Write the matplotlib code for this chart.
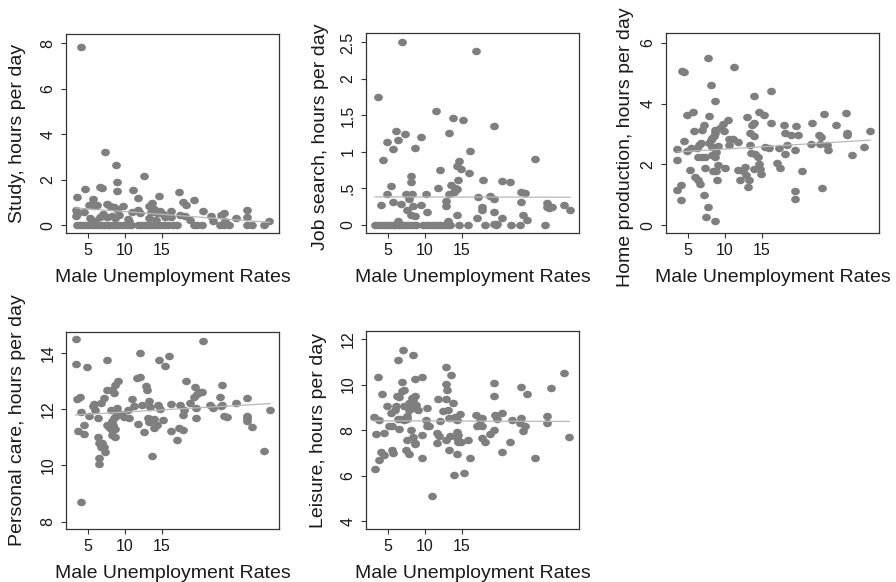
import numpy as np
import matplotlib
matplotlib.use("Agg")
import matplotlib.pyplot as plt
from matplotlib.path import Path

plt.rcParams['font.family'] = ['Liberation Sans', 'DejaVu Sans']

# ---------------- data ----------------
# Study
study_x = [4.0, 3.5, 3.4, 3.3, 3.5, 4.4, 4.6, 5.1, 5.2, 5.7, 5.8, 6.2, 6.0, 6.6, 6.6, 6.9, 7.3, 7.5,
           8.0, 8.5, 8.9, 7.0, 7.6, 8.2, 8.6, 9.2, 8.8, 8.9, 8.9, 9.8, 10.4, 10.6, 11.1, 11.8, 11.8,
           10.9, 12.0, 12.6, 13.3, 13.7, 14.6, 13.5, 14.0, 14.3, 14.8, 15.1, 13.2, 14.2, 15.5, 16.2,
           16.3, 17.3, 17.9, 18.3, 19.4, 17.5, 18.1, 18.8, 20.6, 21.7, 21.9, 23.0, 23.4, 23.6, 25.0,
           26.6, 26.6, 29.6, 28.9,
           3.5, 3.9, 4.2, 4.6, 5.0, 5.5, 6.0, 6.5, 6.9, 7.3, 7.7, 8.0, 8.4, 8.8, 9.2, 9.8, 10.3,
           10.8, 11.8, 12.2, 12.6, 13.0, 13.4, 13.8, 14.3, 14.8, 15.3, 15.8, 16.5, 17.1, 19.3, 19.8,
           20.4, 22.9, 23.4, 24.1, 26.5, 27.3]
study_y = [7.83, 1.24, 0.66, 0.42, 0.51, 0.59, 1.60, 0.90, 0.32, 1.16, 0.83, 0.90, 0.20, 0.35, 1.67,
           1.65, 3.23, 0.95, 0.85, 0.78, 0.70, 0.50, 0.35, 0.42, 0.30, 0.45, 2.66, 1.90, 1.49, 0.86,
           0.28, 0.20, 1.56, 1.20, 0.69, 0.58, 0.55, 2.15, 0.83, 0.98, 1.30, 0.60, 0.70, 0.55, 0.62,
           0.50, 0.30, 0.25, 0.35, 0.61, 0.37, 1.48, 1.00, 0.88, 1.10, 0.47, 0.40, 0.25, 0.61, 0.42,
           0.18, 0.47, 0.53, 0.20, 0.32, 0.69, 0.35, 0.18, 0.03,
           0, 0, 0, 0, 0, 0, 0, 0, 0, 0, 0, 0, 0, 0, 0, 0, 0, 0, 0, 0, 0, 0, 0, 0, 0, 0, 0, 0, 0, 0,
           0, 0, 0, 0, 0, 0, 0, 0]

# Job search
job_x = [3.6, 6.9, 16.9, 4.3, 4.9, 5.6, 6.1, 6.4, 7.3, 8.6, 9.4, 11.5, 13.2, 13.8, 15.2, 19.3, 16.1,
         24.9, 5.4, 4.8, 4.0, 5.7, 6.7, 6.3, 7.4, 8.1, 8.1, 8.3, 7.8, 7.6, 8.1, 8.4, 8.7, 10.2, 9.5,
         10.3, 12.1, 11.8, 12.8, 12.9, 13.2, 13.5, 13.9, 14.1, 14.4, 14.5, 14.3, 14.6, 14.9, 16.0,
         14.3, 13.1, 17.2, 17.1, 17.9, 17.8, 17.8, 18.8, 19.4, 19.4, 19.3, 19.8, 20.4, 20.5, 21.6,
         23.0, 23.6, 23.0, 23.3, 23.9, 26.6, 26.6, 26.8, 27.2, 28.9, 29.7,
         3.2, 3.6, 4.0, 4.4, 4.8, 5.2, 5.6, 6.0, 6.4, 6.8, 7.2, 7.6, 8.0, 8.4, 8.8, 9.8, 10.2, 10.6,
         11.0, 11.4, 11.8, 12.2, 12.6, 13.0, 13.4, 14.6, 15.8, 18.2, 19.6, 21.7, 22.9, 26.3]
job_y = [1.75, 2.51, 2.38, 0.89, 1.14, 1.04, 1.29, 1.16, 1.24, 1.06, 1.21, 1.56, 1.26, 1.46, 1.44,
         1.36, 1.01, 0.91, 0.53, 0.43, 0.27, 0.32, 0.29, 0.06, 0.43, 0.67, 0.59, 0.43, 0.35, 0.20,
         0.14, 0.26, 0.12, 0.43, 0.28, 0.18, 0.75, 0.50, 0.33, 0.26, 0.43, 0.55, 0.45, 0.50, 0.49,
         0.62, 0.81, 0.87, 0.76, 0.71, 0.13, 0.05, 0.38, 0.10, 0.62, 0.24, 0.21, 0.40, 0.36, 0.18,
         0.01, 0.01, 0.60, 0.10, 0.59, 0.45, 0.44, 0.32, 0.14, 0.07, 0.30, 0.25, 0.23, 0.25, 0.28,
         0.20,
         0, 0, 0, 0, 0, 0, 0, 0, 0, 0, 0, 0, 0, 0, 0, 0, 0, 0, 0, 0, 0, 0, 0, 0, 0, 0, 0, 0, 0, 0,
         0, 0]

# Home production
home_x = [3.5, 3.5, 3.5, 4.0, 4.1, 4.2, 4.5, 4.5, 4.9, 5.2, 4.9, 5.45, 5.7, 5.8, 6.0, 6.3, 6.6, 6.2,
          6.5, 6.8, 6.4, 6.9, 7.3, 6.9, 7.2, 7.3, 7.2, 7.4, 7.7, 7.7, 7.9, 8.1, 8.7, 8.7, 8.9, 8.4,
          8.8, 9.1, 7.9, 8.1, 8.3, 8.5, 8.6, 8.7, 8.3, 8.8, 8.2, 8.6, 9.1, 9.3, 9.7, 9.9, 10.0, 10.4,
          10.5, 10.6, 11.1, 11.2, 11.8, 11.8, 12.1, 12.4, 12.7, 12.9, 13.0, 13.1, 13.2, 13.4, 13.4,
          13.5, 13.7, 13.9, 13.9, 14.0, 13.9, 14.1, 14.5, 14.6, 14.6, 14.7, 14.9, 15.3, 15.5, 16.0,
          16.3, 16.3, 17.1, 17.4, 17.3, 18.0, 18.1, 18.1, 18.4, 18.9, 19.6, 19.5, 19.5, 19.5, 19.9,
          20.5, 21.8, 21.7, 22.8, 23.0, 22.9, 23.4, 23.2, 24.0, 23.8, 25.0, 26.4, 26.5, 26.6, 27.2,
          28.9, 29.7]
home_y = [2.52, 2.13, 1.16, 1.33, 0.84, 5.08, 5.05, 2.77, 3.63, 1.82, 2.43, 2.54, 3.74, 3.10, 1.60,
          1.49, 1.36, 2.55, 2.65, 2.70, 2.24, 2.24, 2.24, 3.14, 3.30, 1.88, 0.98, 0.26, 5.52, 0.59,
          3.58, 4.62, 0.14, 4.09, 1.49, 1.78, 1.78, 1.99, 2.70, 2.80, 2.86, 2.92, 3.02, 3.14, 2.58,
          2.42, 2.30, 2.24, 2.62, 3.20, 3.34, 3.09, 1.88, 3.47, 2.63, 2.83, 2.83, 5.21, 2.73, 1.82,
          1.49, 1.77, 1.93, 1.66, 3.56, 1.27, 1.49, 3.03, 2.65, 2.37, 3.30, 3.38, 2.92, 4.26, 1.86,
          2.35, 2.26, 3.72, 2.00, 1.86, 1.69, 3.63, 2.59, 2.54, 4.41, 3.36, 2.04, 1.88, 2.54, 3.29,
          3.05, 2.35, 2.63, 2.98, 3.25, 2.48, 1.12, 0.86, 2.98, 1.79, 3.36, 2.68, 2.98, 2.91, 2.68,
          3.65, 1.22, 2.48, 2.65, 3.29, 3.71, 3.05, 2.98, 2.32, 2.56, 3.11]

# Personal care
care_x = [3.4, 3.3, 3.5, 3.9, 3.6, 4.0, 4.1, 4.8, 4.4, 4.5, 5.1, 5.6, 5.8, 6.0, 6.3, 6.3, 6.5, 6.5,
          6.5, 6.7, 6.9, 7.2, 7.3, 6.7, 7.2, 7.5, 7.6, 7.5, 7.8, 8.1, 8.3, 8.5, 8.8, 8.1, 8.3, 8.6,
          8.5, 9.0, 8.9, 8.4, 8.7, 8.2, 8.6, 9.4, 9.9, 10.4, 10.6, 10.9, 11.2, 11.7, 12.1, 12.1,
          11.8, 12.3, 12.6, 12.9, 13.0, 13.3, 13.1, 13.4, 13.2, 13.6, 14.0, 13.7, 14.0, 14.3, 14.5,
          14.7, 14.6, 15.1, 15.5, 16.0, 16.3, 16.2, 17.0, 17.3, 17.4, 17.9, 17.9, 18.0, 18.3, 18.8,
          19.3, 19.5, 19.6, 19.6, 19.8, 20.2, 20.6, 20.5, 21.6, 21.9, 22.9, 23.1, 23.0, 23.2, 23.4,
          23.9, 25.0, 26.5, 26.6, 26.6, 26.5, 27.2, 28.9, 29.7]
care_y = [14.51, 13.62, 12.36, 12.42, 11.24, 8.69, 11.92, 13.50, 11.44, 11.12, 11.76, 12.10, 12.20,
          11.98, 11.68, 11.03, 10.81, 10.26, 10.05, 10.67, 10.79, 10.67, 10.47, 12.24, 12.39, 13.74,
          12.67, 11.45, 11.38, 11.30, 11.60, 11.68, 11.75, 11.98, 12.69, 12.85, 12.57, 12.99, 12.04,
          11.45, 11.30, 11.10, 11.00, 11.84, 11.74, 11.98, 11.68, 12.36, 12.10, 13.11, 13.14, 14.00,
          11.48, 12.16, 11.18, 12.83, 12.67, 12.28, 11.68, 12.07, 11.55, 11.62, 11.65, 10.34, 11.33,
          11.44, 12.16, 12.00, 13.74, 11.62, 13.55, 13.90, 12.18, 11.21, 10.89, 11.33, 12.16, 11.27,
          11.80, 11.98, 13.02, 12.22, 12.43, 12.81, 12.04, 11.68, 12.55, 12.60, 14.42, 12.63, 12.16,
          12.04, 12.45, 12.85, 12.10, 12.15, 11.76, 11.74, 12.24, 12.39, 11.76, 11.60, 11.68, 11.36,
          10.53, 11.96]

# Leisure
leis_x = [3.2, 3.1, 3.6, 3.3, 3.7, 3.8, 4.1, 4.4, 4.2, 4.5, 4.9, 5.1, 5.5, 5.5, 5.6, 5.4, 5.9, 6.1,
          6.2, 6.4, 6.5, 6.4, 6.8, 6.5, 6.9, 6.9, 7.1, 7.0, 7.2, 7.2, 7.6, 7.6, 7.4, 7.5, 7.9, 7.9,
          8.2, 8.4, 8.6, 7.9, 8.2, 8.4, 8.6, 8.1, 8.4, 8.6, 8.4, 8.7, 8.7, 8.8, 9.0, 9.6, 9.6, 9.6,
          10.3, 10.2, 10.3, 10.6, 11.0, 11.7, 11.8, 11.7, 11.9, 12.1, 12.5, 12.8, 12.8, 12.8, 12.9,
          13.0, 13.1, 13.2, 13.2, 13.6, 13.4, 13.8, 13.8, 13.9, 14.1, 14.3, 14.3, 14.5, 14.4, 14.4,
          14.7, 14.5, 14.9, 15.3, 15.9, 16.1, 16.9, 17.1, 17.5, 17.8, 17.8, 17.8, 18.1, 18.8, 19.3,
          19.4, 19.4, 19.5, 19.8, 20.4, 20.5, 21.5, 21.8, 23.0, 23.0, 22.9, 23.6, 23.3, 23.9, 24.9,
          26.5, 26.5, 27.1, 28.8, 29.6]
leis_y = [6.31, 8.57, 10.32, 7.84, 8.45, 6.67, 7.02, 7.87, 9.59, 6.92, 9.04, 8.16, 8.16, 7.14, 6.99,
          8.74, 8.90, 9.04, 9.50, 11.08, 9.45, 8.50, 8.50, 8.04, 10.13, 9.70, 9.77, 11.52, 9.04,
          8.45, 8.50, 8.60, 7.14, 7.58, 6.95, 9.20, 9.40, 9.30, 9.50, 8.90, 9.00, 8.95, 9.00, 8.00,
          7.70, 7.40, 11.28, 10.26, 7.43, 9.11, 8.89, 10.32, 7.80, 6.76, 8.96, 8.45, 8.20, 8.20,
          5.09, 7.87, 9.36, 7.43, 7.72, 8.38, 8.82, 10.76, 10.01, 9.36, 7.58, 9.74, 8.89, 8.53, 7.11,
          10.42, 7.72, 9.21, 8.53, 6.01, 8.57, 7.65, 7.90, 7.80, 8.45, 6.95, 8.72, 7.50, 7.50, 6.12,
          7.55, 6.77, 8.67, 8.16, 8.45, 8.53, 8.20, 7.65, 7.50, 7.84, 8.01, 10.06, 9.50, 8.67, 8.48,
          8.74, 7.02, 7.50, 8.45, 8.53, 9.91, 8.31, 8.16, 7.94, 9.58, 6.77, 8.63, 8.31, 9.84, 10.50,
          7.69]

# fitted lines (intercept, slope)
fit_study = [0.84, -0.024]
fit_job = [0.386, -0.0002]
fit_home = [2.358, 0.0149]
fit_care = [11.75, 0.0152]
fit_leis = [8.414, -0.0011]

ylabels = ["Study, hours per day", "Job search, hours per day", "Home production, hours per day",
           "Personal care, hours per day", "Leisure, hours per day"]
xlabel = "Male Unemployment Rates"
xticks = [5, 10, 15]

# ---------------- drawing ----------------
W, H = 896, 582
fig = plt.figure(figsize=(W / 100, H / 100), dpi=100)

circ = Path.unit_circle()
ell = Path(circ.vertices * np.array([1.0, 0.86]), circ.codes)

DOT = "#7f7f7f"
FRAME = "#333333"
FITC = "#b8b8b8"

panels = [
    dict(box=(66, 34, 279, 233), x=study_x, y=study_y, fit=fit_study, ylim=(-0.34, 8.4),
         yt=[0, 2, 4, 6, 8], ytl=["0", "2", "4", "6", "8"], lab=ylabels[0], lx=17, ly=133.5),
    dict(box=(366, 33, 579, 233), x=job_x, y=job_y, fit=fit_job, ylim=(-0.11, 2.63),
         yt=[0, 0.5, 1, 1.5, 2, 2.5], ytl=["0", ".5", "1", "1.5", "2", "2.5"], lab=ylabels[1],
         lx=320, ly=137),
    dict(box=(666, 33, 879, 233), x=home_x, y=home_y, fit=fit_home, ylim=(-0.26, 6.33),
         yt=[0, 2, 4, 6], ytl=["0", "2", "4", "6"], lab=ylabels[2], lx=625, ly=147),
    dict(box=(66, 332, 279, 529), x=care_x, y=care_y, fit=fit_care, ylim=(7.74, 14.75),
         yt=[8, 10, 12, 14], ytl=["8", "10", "12", "14"], lab=ylabels[3], lx=17, ly=420),
    dict(box=(366, 331, 579, 529), x=leis_x, y=leis_y, fit=fit_leis, ylim=(3.66, 12.35),
         yt=[4, 6, 8, 10, 12], ytl=["4", "6", "8", "10", "12"], lab=ylabels[4], lx=318, ly=430),
]

for p in panels:
    l, t, r, b = p["box"]
    ax = fig.add_axes([l / W, 1 - b / H, (r - l) / W, (b - t) / H])
    ax.scatter(p["x"], p["y"], s=40, marker=ell, color=DOT, linewidths=0, zorder=2)
    xs = np.array([min(p["x"]), max(p["x"])])
    a, k = p["fit"]
    ax.plot(xs, a + k * xs, color=FITC, lw=0.9, zorder=3)
    ax.set_xlim(2.0, 30.9)
    ax.set_ylim(*p["ylim"])
    ax.set_xticks(xticks)
    ax.set_xticklabels([str(v) for v in xticks])
    ax.set_yticks(p["yt"])
    ax.set_yticklabels(p["ytl"], rotation=90, va="center")
    ax.tick_params(axis="both", direction="out", length=3.5, width=0.8, color=FRAME,
                   labelsize=11.5, labelcolor="#1a1a1a")
    ax.tick_params(axis="x", pad=3.5)
    ax.tick_params(axis="y", pad=4)
    for s in ax.spines.values():
        s.set_color(FRAME)
        s.set_linewidth(0.9)
    ax.set_xlabel(xlabel, fontsize=14, color="#1a1a1a")
    ax.xaxis.set_label_coords(0.5, -(44) / (b - t), transform=ax.transAxes)
    ax.xaxis.label.set_va("center")
    ax.set_ylabel(p["lab"], fontsize=14, color="#1a1a1a")
    ax.yaxis.set_label_coords((p["lx"] - l) / (r - l), (b - p["ly"]) / (b - t))
    ax.yaxis.label.set_va("center")

fig.savefig("out.png", dpi=100)
